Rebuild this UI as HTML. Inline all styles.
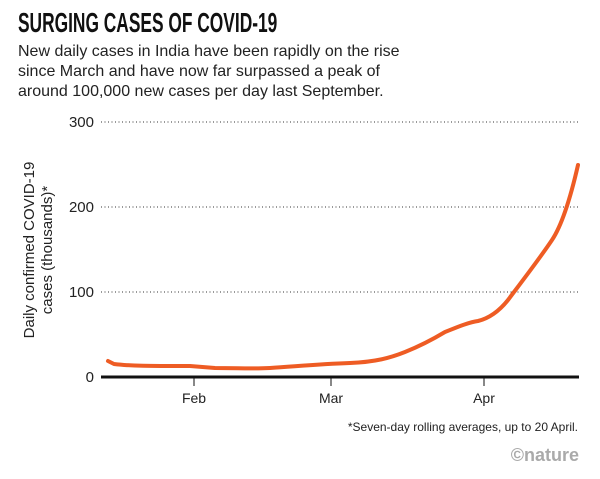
<!DOCTYPE html>
<html><head><meta charset="utf-8"><style>
body{margin:0;background:#fff;width:600px;height:474px;overflow:hidden;font-family:"Liberation Sans",sans-serif;}
</style></head><body>
<svg width="600" height="474" xmlns="http://www.w3.org/2000/svg" font-family="Liberation Sans, sans-serif">
<text x="29" y="32" font-size="28" font-weight="bold" fill="#111" transform="scale(0.62,1)">SURGING CASES OF COVID-19</text>
<text x="18" y="56" font-size="16" fill="#222">New daily cases in India have been rapidly on the rise</text>
<text x="18" y="76" font-size="16" fill="#222">since March and have now far surpassed a peak of</text>
<text x="18" y="96" font-size="16" fill="#222">around 100,000 new cases per day last September.</text>
<g stroke="#333" stroke-width="1" stroke-dasharray="1,2.5">
<line x1="101" y1="122" x2="578" y2="122"/>
<line x1="101" y1="207" x2="578" y2="207"/>
<line x1="101" y1="292" x2="578" y2="292"/>
</g>
<g font-size="15" fill="#222" text-anchor="end">
<text x="94" y="127">300</text><text x="94" y="212">200</text><text x="94" y="297">100</text><text x="94" y="382">0</text>
</g>
<text transform="translate(34,250) rotate(-90)" text-anchor="middle" font-size="15" fill="#222">Daily confirmed COVID-19</text>
<text transform="translate(52,250) rotate(-90)" text-anchor="middle" font-size="15" fill="#222">cases (thousands)*</text>
<line x1="101" y1="377" x2="579" y2="377" stroke="#111" stroke-width="3"/>
<g stroke="#111" stroke-width="1"><line x1="194" y1="377" x2="194" y2="386"/><line x1="331" y1="377" x2="331" y2="386"/><line x1="484" y1="377" x2="484" y2="386"/></g>
<g font-size="14" fill="#222" text-anchor="middle"><text x="194" y="403">Feb</text><text x="331" y="403">Mar</text><text x="484" y="403">Apr</text></g>
<path d="M108,361 L114,364 C130,366 150,366 190,366 L215,368 C240,368 250,369 270,368 C300,366 320,364 350,363 C375,362 390,358 405,352 C420,346 435,338 445,332 C460,326 470,322 478,321 C490,318 500,310 508,300 C520,284 540,258 552,240 C562,225 570,200 578,165" fill="none" stroke="#ee5c24" stroke-width="4" stroke-linecap="round" stroke-linejoin="round"/>
<text x="578" y="431" font-size="12" fill="#222" text-anchor="end">*Seven-day rolling averages, up to 20 April.</text>
<text x="579" y="461" font-size="18" font-weight="bold" fill="#aaa" text-anchor="end">©nature</text>
</svg>
</body></html>
